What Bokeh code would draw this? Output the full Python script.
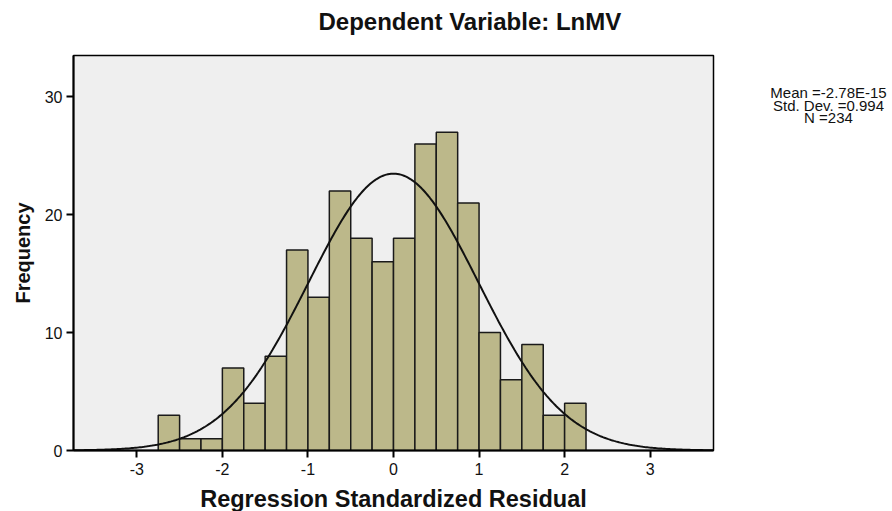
import numpy as np
from bokeh.plotting import figure
from bokeh.layouts import row
from bokeh.models import FixedTicker, Range1d, Title
from bokeh.core.properties import value
from bokeh.embed import file_html
from bokeh.resources import INLINE

# ---- data ----
bin_left = [-2.75, -2.50, -2.25, -2.00, -1.75, -1.50, -1.25, -1.00, -0.75, -0.50,
            -0.25, 0.00, 0.25, 0.50, 0.75, 1.00, 1.25, 1.50, 1.75, 2.00]
bin_width = 0.25
counts = [3, 1, 1, 7, 4, 8, 17, 13, 22, 18, 16, 18, 26, 27, 21, 10, 6, 9, 3, 4]
x_ticks = [-3, -2, -1, 0, 1, 2, 3]
y_ticks = [0, 10, 20, 30]
mean_val = -2.78e-15
sd_val = 0.994
n_val = 234
stats_lines = ["Mean =-2.78E-15", "Std. Dev. =0.994", "N =234"]
title_text = "Dependent Variable: LnMV"
x_label = "Regression Standardized Residual"
y_label = "Frequency"

FONT = "Liberation Sans"

p = figure(frame_width=640, frame_height=395,
           x_range=(-3.74, 3.74), y_range=(0, 33.5),
           output_backend="svg", toolbar_location=None,
           min_border_left=73, min_border_right=20,
           min_border_top=55, min_border_bottom=58)

p.background_fill_color = "#efefef"
p.border_fill_color = "white"
p.outline_line_color = "black"
p.outline_line_width = 1.5
p.xgrid.visible = False
p.ygrid.visible = False

# title
p.title.text = title_text
p.title.text_font = FONT
p.title.text_font_style = "bold"
p.title.text_font_size = "24px"
p.title.text_color = "#111111"
p.title.align = "left"
p.title.offset = 245
p.title.standoff = 10
# blank spacer between title and plot area
p.add_layout(Title(text=" ", text_font_size="12px", standoff=0), "above")

# bars
bin_right = [b + bin_width for b in bin_left]
p.quad(left=bin_left, right=bin_right, bottom=0, top=counts,
       fill_color="#bcb88a", line_color="#1a1a1a", line_width=1.5)

# normal curve from the shown statistics
xs = np.linspace(-3.74, 3.74, 400)
ys = n_val * bin_width * np.exp(-0.5 * ((xs - mean_val) / sd_val) ** 2) / (sd_val * np.sqrt(2 * np.pi))
p.line(xs, ys, line_color="#111111", line_width=2)

# axes
for ax in (p.xaxis[0], p.yaxis[0]):
    ax.axis_line_color = "black"
    ax.axis_line_width = 2
    ax.major_tick_line_color = "black"
    ax.major_tick_line_width = 2
    ax.major_tick_out = 7
    ax.major_tick_in = 0
    ax.minor_tick_line_color = None
    ax.major_label_text_font = FONT
    ax.major_label_text_font_size = "16px"
    ax.major_label_text_color = "#111111"
    ax.axis_label_text_font = FONT
    ax.axis_label_text_font_style = "bold"
    ax.axis_label_text_color = "#111111"

p.xaxis.ticker = FixedTicker(ticks=x_ticks)
p.yaxis.ticker = FixedTicker(ticks=y_ticks)
p.xaxis.major_label_overrides = {t: str(t) for t in x_ticks}
p.yaxis.major_label_overrides = {t: str(t) for t in y_ticks}
p.xaxis.axis_label = x_label
p.yaxis.axis_label = y_label
p.xaxis.axis_label_text_font_size = "23.5px"
p.yaxis.axis_label_text_font_size = "20px"
p.xaxis.major_label_standoff = 5
p.xaxis.axis_label_standoff = 8
p.yaxis.major_label_standoff = 4
p.yaxis.axis_label_standoff = 8

# statistics text panel on the right (shares the main y scale so it aligns)
s = figure(width=158, height=508, x_range=Range1d(0, 158), y_range=p.y_range,
           output_backend="svg", toolbar_location=None,
           min_border_left=0, min_border_right=0,
           min_border_top=55, min_border_bottom=58)
s.axis.visible = False
s.grid.visible = False
s.outline_line_color = None
s.background_fill_color = "white"
s.border_fill_color = "white"
s.text(x=[95, 95, 95], y=[30.28, 29.22, 28.16], text=stats_lines,
       text_align="center", text_baseline="middle",
       text_font=value(FONT), text_font_size="15px", text_color="#111111")

layout = row(p, s, spacing=0)
open("out.html", "w").write(file_html(layout, INLINE))
